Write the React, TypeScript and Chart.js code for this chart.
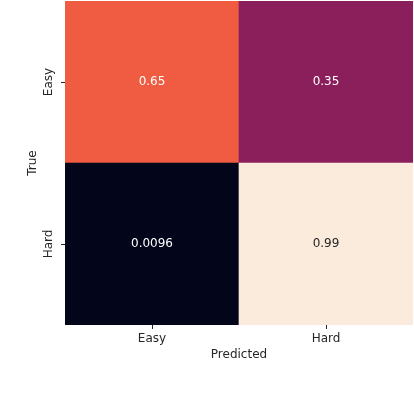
import React, { useEffect, useRef } from "react";
import { Chart, registerables } from "chart.js";

Chart.register(...registerables);

// Categories
const predictedLabels = ["Easy", "Hard"]; // x axis (columns)
const trueLabels = ["Easy", "Hard"]; // y axis (rows, top to bottom)

// Confusion matrix values (rows = true, columns = predicted)
const rowEasy = [0.65, 0.35];
const rowHard = [0.0096, 0.99];
const textEasy = ["0.65", "0.35"];
const textHard = ["0.0096", "0.99"];

// Colormap anchors (rocket-like)
const cmapPos = [0, 0.2, 0.347, 0.5, 0.653, 0.8, 1];
const cmapCol = [
  [3, 5, 26],
  [65, 21, 72],
  [139, 31, 92],
  [209, 31, 72],
  [240, 92, 66],
  [246, 165, 130],
  [250, 235, 221],
];

const allVals = [...rowEasy, ...rowHard];
const vmin = Math.min(...allVals);
const vmax = Math.max(...allVals);

function colorFor(v: number): string {
  const t = Math.max(0, Math.min(1, (v - vmin) / (vmax - vmin)));
  let i = 0;
  while (i < cmapPos.length - 2 && t > cmapPos[i + 1]) i++;
  const f = (t - cmapPos[i]) / (cmapPos[i + 1] - cmapPos[i]);
  const c = cmapCol[i].map((a, k) => Math.round(a + (cmapCol[i + 1][k] - a) * f));
  return `rgb(${c[0]},${c[1]},${c[2]})`;
}

const FONT = "'DejaVu Sans', sans-serif";
const TXT = "#262626";

const annotatePlugin = {
  id: "annotate",
  afterDatasetsDraw(chart: any) {
    const ctx = chart.ctx;
    const xs = chart.scales.x;
    const ys = chart.scales.y;
    const rows = [
      { vals: rowEasy, txt: textEasy, center: 1.5 },
      { vals: rowHard, txt: textHard, center: 0.5 },
    ];
    ctx.save();
    ctx.font = `12px ${FONT}`;
    ctx.textAlign = "center";
    ctx.textBaseline = "middle";
    rows.forEach((r) => {
      r.vals.forEach((v, j) => {
        const t = (v - vmin) / (vmax - vmin);
        ctx.fillStyle = t > 0.85 ? TXT : "#ffffff";
        ctx.fillText(r.txt[j], xs.getPixelForValue(j), ys.getPixelForValue(r.center));
      });
    });
    ctx.restore();
  },
};

export default function App() {
  const ref = useRef<HTMLCanvasElement | null>(null);

  useEffect(() => {
    if (!ref.current) return;
    const chart = new Chart(ref.current, {
      type: "bar",
      data: {
        labels: predictedLabels,
        datasets: [
          {
            label: trueLabels[1],
            data: rowHard.map(() => 1),
            backgroundColor: rowHard.map(colorFor),
            borderWidth: 0,
            barPercentage: 1,
            categoryPercentage: 1,
          },
          {
            label: trueLabels[0],
            data: rowEasy.map(() => 1),
            backgroundColor: rowEasy.map(colorFor),
            borderWidth: 0,
            barPercentage: 1,
            categoryPercentage: 1,
          },
        ],
      },
      options: {
        animation: false,
        responsive: true,
        maintainAspectRatio: false,
        layout: { padding: { left: 0, right: 1, top: 1, bottom: 32 } },
        plugins: {
          legend: { display: false },
          tooltip: { enabled: false },
        },
        scales: {
          x: {
            type: "category",
            stacked: true,
            offset: true,
            grid: {
              offset: false,
              drawOnChartArea: false,
              drawTicks: true,
              tickLength: 4,
              color: TXT,
            },
            border: { display: false },
            ticks: { color: TXT, font: { family: FONT, size: 12 }, padding: 3, maxRotation: 0 },
            title: {
              display: true,
              text: "Predicted",
              color: TXT,
              font: { family: FONT, size: 12 },
              padding: { top: 0, bottom: 0 },
            },
            afterFit: (s: any) => {
              s.height = 37;
              s.paddingLeft = 0;
              s.paddingRight = 0;
            },
          },
          y: {
            type: "linear",
            stacked: true,
            min: 0,
            max: trueLabels.length,
            grid: {
              drawOnChartArea: false,
              drawTicks: true,
              tickLength: 4,
              color: TXT,
            },
            border: { display: false },
            afterBuildTicks: (s: any) => {
              s.ticks = trueLabels.map((_, i) => ({ value: trueLabels.length - i - 0.5 }));
            },
            ticks: {
              color: TXT,
              font: { family: FONT, size: 12 },
              padding: -2,
              minRotation: 90,
              maxRotation: 90,
              crossAlign: "center",
              callback: (_v: any, i: number) => trueLabels[i],
            },
            title: {
              display: true,
              text: "True",
              color: TXT,
              font: { family: FONT, size: 12 },
              padding: { top: 26, bottom: 0 },
            },
            afterFit: (s: any) => {
              s.width = 65;
              s.paddingTop = 0;
              s.paddingBottom = 0;
            },
          },
        },
      },
      plugins: [annotatePlugin],
    } as any);
    return () => chart.destroy();
  }, []);

  return (
    <div style={{ position: "absolute", left: 0, top: 0, width: 414, height: 394, background: "#fff" }}>
      <canvas ref={ref} />
    </div>
  );
}
